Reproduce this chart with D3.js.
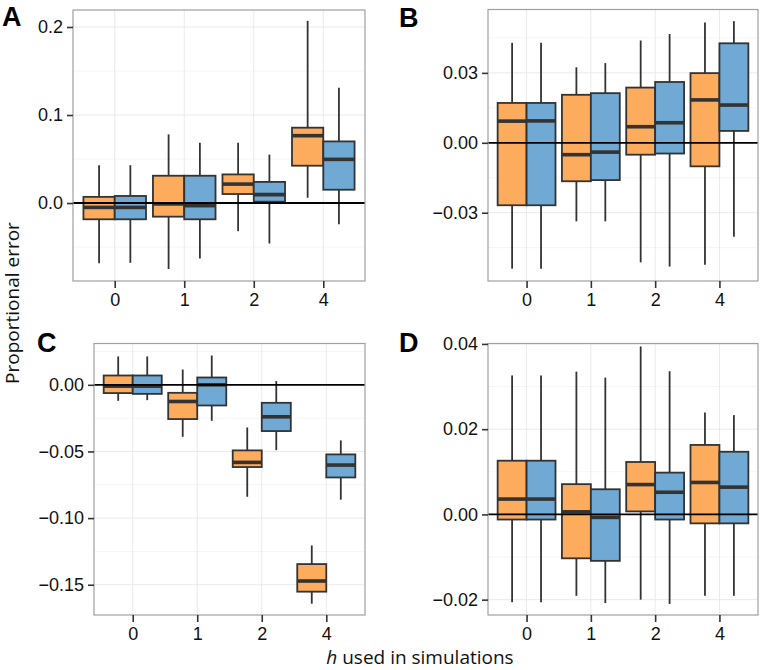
<!DOCTYPE html>
<html>
<head>
<meta charset="utf-8">
<script src="https://cdn.jsdelivr.net/npm/d3@7"></script>
<style>
  html, body { margin: 0; padding: 0; background: #fff; }
  svg { display: block; }
</style>
</head>
<body>
<svg id="chart" width="761" height="670"></svg>
<script>
// ---------- DATA ----------
const categories = ["0", "1", "2", "4"];
const seriesNames = ["orange", "blue"];
// five-number summaries per category: [lower whisker, Q1, median, Q3, upper whisker]
const panelA_orange = [[-0.0685, -0.0185, -0.005, 0.007, 0.043], [-0.075, -0.0155, -0.001, 0.031, 0.078], [-0.032, 0.0102, 0.0215, 0.0325, 0.0685], [0.006, 0.0424, 0.0765, 0.0856, 0.207]];
const panelA_blue   = [[-0.068, -0.0185, -0.005, 0.008, 0.043], [-0.063, -0.0185, -0.003, 0.031, 0.0685], [-0.046, 0.0015, 0.0095, 0.024, 0.055], [-0.024, 0.0151, 0.0496, 0.070, 0.131]];
const panelB_orange = [[-0.054, -0.0268, 0.0093, 0.0171, 0.0429], [-0.0337, -0.0165, -0.0051, 0.0206, 0.0324], [-0.0513, -0.0051, 0.0069, 0.0237, 0.0439], [-0.0523, -0.0101, 0.0184, 0.0299, 0.0516]];
const panelB_blue   = [[-0.054, -0.0268, 0.0094, 0.0171, 0.0429], [-0.0337, -0.016, -0.004, 0.0213, 0.0342], [-0.0531, -0.0046, 0.0086, 0.0261, 0.0467], [-0.0403, 0.0051, 0.0162, 0.0427, 0.0522]];
const panelC_orange = [[-0.012, -0.0062, -0.001, 0.007, 0.0213], [-0.039, -0.0257, -0.0125, -0.006, 0.0115], [-0.084, -0.0617, -0.0582, -0.0492, -0.032], [-0.1642, -0.1552, -0.1472, -0.1345, -0.1205]];
const panelC_blue   = [[-0.0115, -0.0068, -0.001, 0.007, 0.0213], [-0.027, -0.0155, 0.0, 0.0055, 0.022], [-0.049, -0.0347, -0.024, -0.0135, 0.0028], [-0.0862, -0.0695, -0.0602, -0.0522, -0.0417]];
const panelD_orange = [[-0.0206, -0.0012, 0.0036, 0.0126, 0.0326], [-0.0191, -0.0103, 0.0006, 0.0071, 0.0335], [-0.020, 0.0007, 0.0070, 0.0123, 0.0394], [-0.0191, -0.0021, 0.0075, 0.0163, 0.0239]];
const panelD_blue   = [[-0.0206, -0.0012, 0.0036, 0.0126, 0.0326], [-0.0208, -0.0109, -0.0007, 0.0059, 0.0321], [-0.021, -0.0012, 0.0052, 0.0098, 0.0336], [-0.0191, -0.0021, 0.0064, 0.0147, 0.0233]];

const ticksA = [0, 0.1, 0.2];          const tickLabelsA = ["0.0", "0.1", "0.2"];
const ticksB = [-0.03, 0, 0.03];       const tickLabelsB = ["\u22120.03", "0.00", "0.03"];
const ticksC = [0, -0.05, -0.10, -0.15]; const tickLabelsC = ["0.00", "\u22120.05", "\u22120.10", "\u22120.15"];
const ticksD = [-0.02, 0, 0.02, 0.04]; const tickLabelsD = ["\u22120.02", "0.00", "0.02", "0.04"];
const minorA = [-0.05, 0.05, 0.15];
const minorB = [-0.045, -0.015, 0.015, 0.045];
const minorC = [0.025, -0.025, -0.075, -0.125];
const minorD = [-0.01, 0.01, 0.03];
const domainA = [-0.0886, 0.2193];
const domainB = [-0.0593, 0.0572];
const domainC = [-0.1727, 0.031];
const domainD = [-0.0236, 0.0401];

const yTitle = "Proportional error";
const xTitleItalic = "h";
const xTitleRest = " used in simulations";

// ---------- STYLE / LAYOUT ----------
const colors = { orange: "#fdab5c", blue: "#6fa9d4" };
const panels = [
  { letter: "A", data: [panelA_orange, panelA_blue], ticks: ticksA, labels: tickLabelsA, minor: minorA, domain: domainA,
    x: [73, 365], y: [10, 281], lx: 2, ly: 26 },
  { letter: "B", data: [panelB_orange, panelB_blue], ticks: ticksB, labels: tickLabelsB, minor: minorB, domain: domainB,
    x: [488, 758], y: [9.5, 281], lx: 399, ly: 27 },
  { letter: "C", data: [panelC_orange, panelC_blue], ticks: ticksC, labels: tickLabelsC, minor: minorC, domain: domainC,
    x: [94, 365], y: [343.5, 615], lx: 37, ly: 352 },
  { letter: "D", data: [panelD_orange, panelD_blue], ticks: ticksD, labels: tickLabelsD, minor: minorD, domain: domainD,
    x: [488, 758], y: [343.5, 615], lx: 399, ly: 352 }
];

const svg = d3.select("#chart");
const tickFont = "'Liberation Sans', Arial, Helvetica, sans-serif";

panels.forEach(p => {
  const x = d3.scalePoint().domain(categories).range(p.x).padding(0.6);
  const y = d3.scaleLinear().domain(p.domain).range([p.y[1], p.y[0]]);
  const step = x.step();
  const g = svg.append("g");

  g.append("rect").attr("x", p.x[0]).attr("y", p.y[0])
    .attr("width", p.x[1] - p.x[0]).attr("height", p.y[1] - p.y[0]).attr("fill", "#fff");

  g.selectAll(".minor").data(p.minor).enter().append("line")
    .attr("x1", p.x[0]).attr("x2", p.x[1])
    .attr("y1", d => y(d)).attr("y2", d => y(d))
    .attr("stroke", "#f3f3f3").attr("stroke-width", 0.8);
  g.selectAll(".majory").data(p.ticks).enter().append("line")
    .attr("x1", p.x[0]).attr("x2", p.x[1])
    .attr("y1", d => y(d)).attr("y2", d => y(d))
    .attr("stroke", "#eaeaea").attr("stroke-width", 1);
  g.selectAll(".majorx").data(categories).enter().append("line")
    .attr("x1", d => x(d)).attr("x2", d => x(d))
    .attr("y1", p.y[0]).attr("y2", p.y[1])
    .attr("stroke", "#eaeaea").attr("stroke-width", 1);

  const half = 0.45 * step;
  p.data.forEach((series, si) => {
    const name = seriesNames[si];
    const sg = g.append("g");
    series.forEach((s, ci) => {
      const c = x(categories[ci]);
      const left = si === 0 ? c - half : c;
      const mid = left + half / 2;
      sg.append("line").attr("x1", mid).attr("x2", mid)
        .attr("y1", y(s[4])).attr("y2", y(s[3]))
        .attr("stroke", "#333").attr("stroke-width", 1.8);
      sg.append("line").attr("x1", mid).attr("x2", mid)
        .attr("y1", y(s[1])).attr("y2", y(s[0]))
        .attr("stroke", "#333").attr("stroke-width", 1.8);
      sg.append("rect").attr("x", left).attr("width", half)
        .attr("y", y(s[3])).attr("height", y(s[1]) - y(s[3]))
        .attr("fill", colors[name]).attr("stroke", "#333").attr("stroke-width", 1.8);
      sg.append("line").attr("x1", left).attr("x2", left + half)
        .attr("y1", y(s[2])).attr("y2", y(s[2]))
        .attr("stroke", "#333").attr("stroke-width", 3.6);
    });
  });

  g.append("line").attr("x1", p.x[0]).attr("x2", p.x[1])
    .attr("y1", y(0)).attr("y2", y(0))
    .attr("stroke", "#000").attr("stroke-width", 1.8);

  g.append("rect").attr("x", p.x[0]).attr("y", p.y[0])
    .attr("width", p.x[1] - p.x[0]).attr("height", p.y[1] - p.y[0])
    .attr("fill", "none").attr("stroke", "#a0a0a0").attr("stroke-width", 1.2);

  const yAxis = d3.axisLeft(y).tickValues(p.ticks)
    .tickFormat((d, i) => p.labels[i]).tickSize(6).tickPadding(4);
  const ya = g.append("g").attr("transform", `translate(${p.x[0]},0)`).call(yAxis);
  const xAxis = d3.axisBottom(x).tickSize(7).tickPadding(5);
  const xa = g.append("g").attr("transform", `translate(0,${p.y[1]})`).call(xAxis);
  [ya, xa].forEach(a => {
    a.select(".domain").remove();
    a.selectAll(".tick line").attr("stroke", "#333").attr("stroke-width", 1.6);
    a.selectAll(".tick text").attr("fill", "#111").style("font-family", tickFont).style("font-size", "18px");
  });

  svg.append("text").attr("x", p.lx).attr("y", p.ly).text(p.letter)
    .style("font-family", "'Liberation Sans', Arial, sans-serif").style("font-weight", "bold")
    .style("font-size", "27px").attr("fill", "#000");
});

svg.append("text")
  .attr("x", -303).attr("y", 19)
  .attr("transform", "rotate(-90)")
  .attr("text-anchor", "middle")
  .style("font-family", "'Open Sans', sans-serif").style("font-size", "19px")
  .attr("fill", "#111").text(yTitle);

const xt = svg.append("text").attr("x", 420).attr("y", 664).attr("text-anchor", "middle")
  .style("font-family", "'Open Sans', sans-serif").style("font-size", "19px").attr("fill", "#111");
xt.append("tspan").style("font-style", "italic").text(xTitleItalic);
xt.append("tspan").text(xTitleRest);
</script>
</body>
</html>
